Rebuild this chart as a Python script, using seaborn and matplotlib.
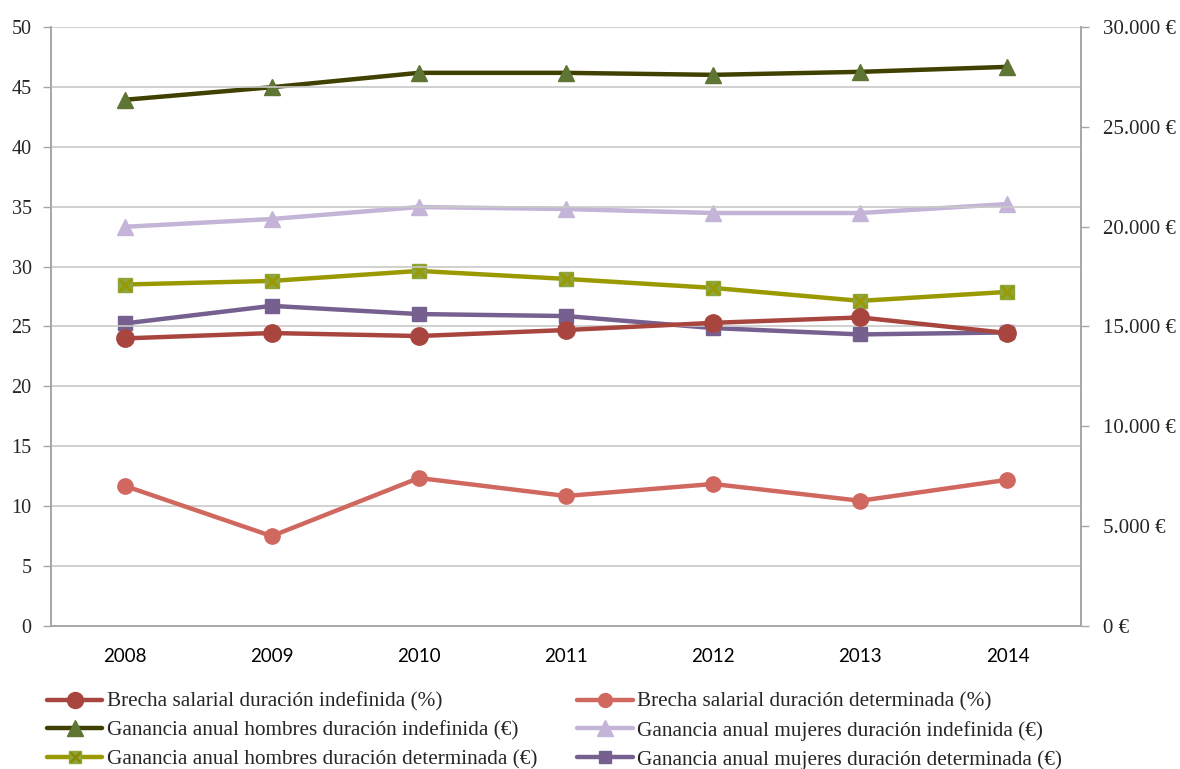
import matplotlib
matplotlib.use("Agg")
import matplotlib.pyplot as plt
from matplotlib.lines import Line2D
from matplotlib.legend_handler import HandlerTuple
from matplotlib.ticker import FuncFormatter, MultipleLocator
import seaborn as sns
import pandas as pd

years = [2008, 2009, 2010, 2011, 2012, 2013, 2014]

# Wage gap (%), left axis
brecha_indefinida = [24.0, 24.45, 24.2, 24.7, 25.3, 25.75, 24.45]
brecha_determinada = [11.7, 7.5, 12.35, 10.85, 11.85, 10.45, 12.2]

# Annual earnings (€), right axis
hombres_indefinida = [26350, 26980, 27700, 27700, 27600, 27750, 28000]
mujeres_indefinida = [19990, 20380, 20980, 20880, 20680, 20680, 21130]
hombres_determinada = [17100, 17280, 17780, 17380, 16930, 16280, 16730]
mujeres_determinada = [15150, 16030, 15620, 15520, 14920, 14600, 14700]

labels = [
    "Brecha salarial duración indefinida (%)",
    "Brecha salarial duración determinada (%)",
    "Ganancia anual hombres duración indefinida (€)",
    "Ganancia anual mujeres duración indefinida (€)",
    "Ganancia anual hombres duración determinada (€)",
    "Ganancia anual mujeres duración determinada (€)",
]

sns.set_theme(style="white")
plt.rcParams["font.family"] = ["Liberation Serif", "DejaVu Serif"]

SERIF = "Liberation Serif"
SANS = "Lato"
GRID = "#c8c8c8"
AXIS = "#a6a6a6"

fig = plt.figure(figsize=(11.8, 7.69), dpi=100)
ax = fig.add_axes([0.0432, 0.186, 0.8729, 0.779])
ax2 = ax.twinx()

LW = 3.2
MS = 11

styles = {
    labels[0]: dict(line="#a8453f", face="#a8453f", marker="o", ms=MS + 1.5),
    labels[1]: dict(line="#d0685f", face="#d0685f", marker="o", ms=MS),
    labels[2]: dict(line="#404000", face="#5f7533", marker="^", ms=MS + 1),
    labels[3]: dict(line="#c4b4d8", face="#c4b4d8", marker="^", ms=MS + 1),
    labels[4]: dict(line="#9a9a00", face="#8ea53c", marker="s", ms=MS - 1),
    labels[5]: dict(line="#75608f", face="#75608f", marker="s", ms=MS - 1),
}

left_series = [(labels[0], brecha_indefinida), (labels[1], brecha_determinada)]
right_series = [
    (labels[2], hombres_indefinida),
    (labels[3], mujeres_indefinida),
    (labels[4], hombres_determinada),
    (labels[5], mujeres_determinada),
]


def draw(axis, name, values, z):
    st = styles[name]
    df = pd.DataFrame({"year": years, "value": values})
    sns.lineplot(data=df, x="year", y="value", ax=axis, color=st["line"],
                 linewidth=LW, marker=st["marker"], markersize=st["ms"],
                 markerfacecolor=st["face"], markeredgecolor=st["face"],
                 markeredgewidth=1, zorder=z, legend=False)


# right-axis series first so the gap lines sit on top where they cross
for i, (name, vals) in enumerate(right_series):
    draw(ax2, name, vals, 3 + i)
# cross inside the square markers of the men's fixed-term series
sns.lineplot(data=pd.DataFrame({"year": years, "value": hombres_determinada}),
             x="year", y="value", ax=ax2, linestyle="none", marker="x",
             markersize=8, markeredgecolor="#9a9a00", markeredgewidth=2,
             color="#9a9a00", zorder=10, legend=False)

# put the primary axis above the twin so its lines are drawn last
ax.set_zorder(ax2.get_zorder() + 1)
ax.patch.set_visible(False)
for i, (name, vals) in enumerate(left_series):
    draw(ax, name, vals, 5 + i)

# Axes limits and ticks
ax.set_xlim(2007.5, 2014.5)
ax.set_ylim(0, 50)
ax2.set_ylim(0, 30000)
ax.set_xticks(years)
ax.set_xticklabels([str(y) for y in years], fontfamily=SANS, fontsize=13.5)
ax.set_xticks([y + 0.5 for y in [2007] + years], minor=True)
ax.tick_params(axis="x", which="major", length=0, pad=16, colors="#000000")
ax.tick_params(axis="x", which="minor", length=6, width=1, color=AXIS,
               direction="out")
ax.yaxis.set_major_locator(MultipleLocator(5))
ax.tick_params(axis="y", which="major", length=6, width=1, color=AXIS,
               direction="out", pad=8, labelsize=14.5)
for t in ax.get_yticklabels():
    t.set_fontfamily(SERIF)

ax2.yaxis.set_major_locator(MultipleLocator(5000))
ax2.yaxis.set_major_formatter(FuncFormatter(
    lambda v, p: f"{int(v):,}".replace(",", ".") + " €"))
ax2.tick_params(axis="y", which="major", length=6, width=1, color=AXIS,
                direction="out", pad=10, labelsize=15, right=True)
for t in ax2.get_yticklabels():
    t.set_fontfamily(SERIF)

ax.set_xlabel("")
ax.set_ylabel("")
ax2.set_xlabel("")
ax2.set_ylabel("")

ax.yaxis.grid(True, color=GRID, linewidth=1.2)
ax.set_axisbelow(True)
ax2.grid(False)
ax.xaxis.grid(False)

for a in (ax, ax2):
    a.spines["top"].set_visible(False)
    for s in ("left", "right", "bottom"):
        a.spines[s].set_color(AXIS)
        a.spines[s].set_linewidth(1.2)

# Legend below the plot, two columns
def handle(name):
    st = styles[name]
    return Line2D([], [], color=st["line"], linewidth=LW, marker=st["marker"],
                  markersize=st["ms"] - 1, markerfacecolor=st["face"],
                  markeredgecolor=st["face"])

h_all = {n: handle(n) for n in labels}
cross = Line2D([], [], linestyle="none", marker="x", markersize=7,
               markeredgecolor="#8a8a00", markeredgewidth=1.8)
h_all[labels[4]] = (h_all[labels[4]], cross)

order = [labels[0], labels[2], labels[4], labels[1], labels[3], labels[5]]
fig.legend([h_all[n] for n in order], order, loc="upper left",
           bbox_to_anchor=(0.040, 0.100), ncol=2, frameon=False,
           prop={"family": SERIF, "size": 15.3}, handlelength=2.6,
           handletextpad=0.2, columnspacing=1.9, labelspacing=0.42,
           borderpad=0, borderaxespad=0,
           handler_map={tuple: HandlerTuple(ndivide=1, pad=0)})

fig.savefig("out.png", dpi=100)
